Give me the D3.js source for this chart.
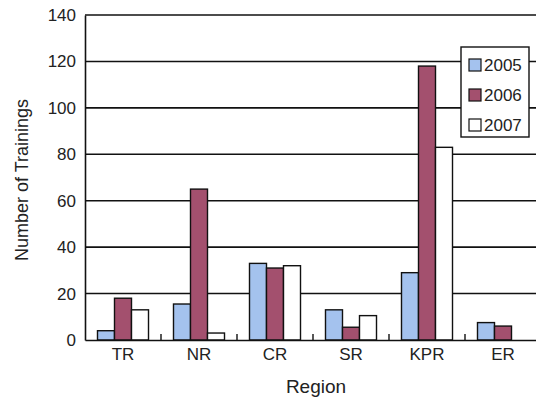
<!DOCTYPE html>
<html><head><meta charset="utf-8">
<script src="https://cdn.jsdelivr.net/npm/d3@7"></script>
<style>body{margin:0;background:#fff}svg{display:block}text{font-family:Arial,"Liberation Sans",sans-serif;fill:#222}</style>
</head><body><svg id="c" width="536" height="403"></svg>
<script>
const regions = ["TR","NR","CR","SR","KPR","ER"];
const years = ["2005","2006","2007"];
const v2005 = [4, 15.5, 33, 13, 29, 7.5];
const v2006 = [18, 65, 31, 5.5, 118, 6];
const v2007 = [13, 3, 32, 10.5, 83, 0];
const yTicks = [0,20,40,60,80,100,120,140];
const colors = ["#a4c2ee","#a3506e","#ffffff"];

const series = [v2005, v2006, v2007];
const svg = d3.select("#c");
const mLeft = 85, mRight = 541, mTop = 15, mBottom = 340;
const x = d3.scaleBand().domain(regions).range([mLeft, mRight]).padding(0);
const xs = d3.scaleBand().domain(years).range([0, x.bandwidth()]).paddingInner(0).paddingOuter(0.735);
const y = d3.scaleLinear().domain([0,140]).range([mBottom, mTop]);

// gridlines
svg.append("g").selectAll("line").data(yTicks.filter(d=>d>0)).join("line")
  .attr("x1", mLeft).attr("x2", 536).attr("y1", d=>y(d)).attr("y2", d=>y(d))
  .attr("stroke","#111").attr("stroke-width",1.6);

// y axis
const ya = svg.append("g").attr("transform",`translate(${mLeft},0)`)
  .call(d3.axisLeft(y).tickValues(yTicks).tickSize(0).tickPadding(9));
ya.select(".domain").attr("stroke","#111").attr("stroke-width",1.6);
ya.selectAll("text").attr("font-size",17).attr("fill","#222");

// bars
const g = svg.append("g");
regions.forEach((r,i)=>{
  years.forEach((yr,j)=>{
    const val = series[j][i];
    if (val <= 0) return;
    g.append("rect").attr("x", x(r)+xs(yr)).attr("width", xs.bandwidth())
      .attr("y", y(val)).attr("height", y(0)-y(val))
      .attr("fill", colors[j]).attr("stroke","#111").attr("stroke-width",1.4);
  });
});

// x axis
const xa = svg.append("g").attr("transform",`translate(0,${mBottom})`)
  .call(d3.axisBottom(x).tickSize(0).tickPadding(8));
xa.select(".domain").attr("stroke","#111").attr("stroke-width",1.6);
xa.selectAll("text").attr("font-size",17).attr("fill","#222");
// boundary ticks (inside)
svg.append("g").selectAll("line").data(regions.slice(1)).join("line")
  .attr("x1", d=>x(d)).attr("x2", d=>x(d)).attr("y1", mBottom).attr("y2", mBottom-6)
  .attr("stroke","#111").attr("stroke-width",1.4);

// axis titles
svg.append("text").attr("x", 316).attr("y", 393).attr("text-anchor","middle")
  .attr("font-size",19).text("Region");
svg.append("text").attr("transform","translate(28,180) rotate(-90)").attr("text-anchor","middle")
  .attr("font-size",18).text("Number of Trainings");

// legend
const lg = svg.append("g").attr("transform","translate(461,47)");
lg.append("rect").attr("width",68).attr("height",90).attr("fill","#fff").attr("stroke","#111").attr("stroke-width",1.4);
years.forEach((yr,j)=>{
  const cy = 18 + j*30;
  lg.append("rect").attr("x",8).attr("y",cy-6).attr("width",12).attr("height",12)
    .attr("fill",colors[j]).attr("stroke","#111").attr("stroke-width",1.2);
  lg.append("text").attr("x",23).attr("y",cy+6).attr("font-size",17).text(yr);
});
</script></body></html>
